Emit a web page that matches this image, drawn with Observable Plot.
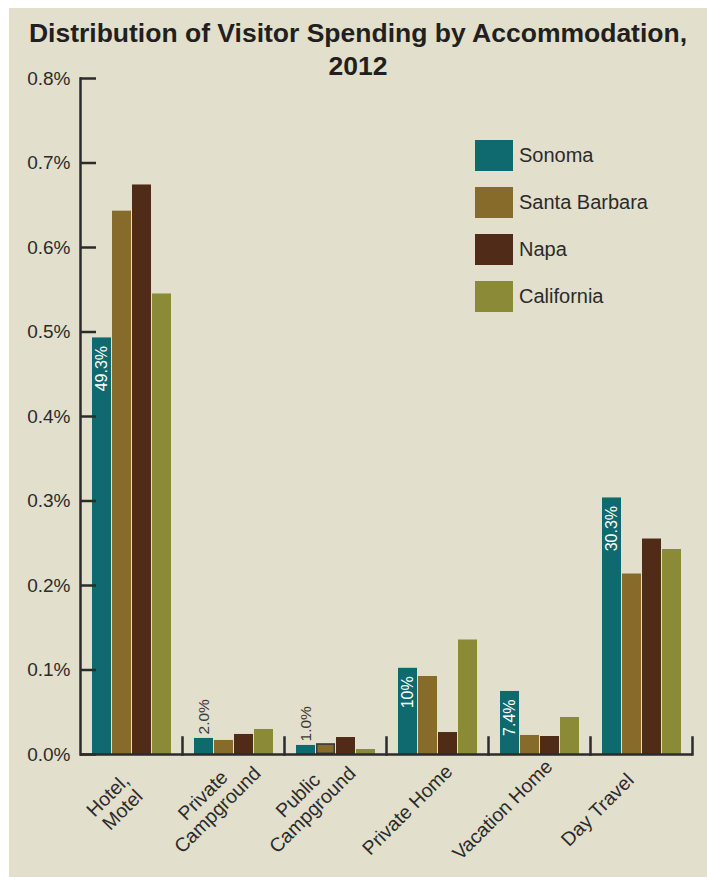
<!DOCTYPE html>
<html><head><meta charset="utf-8">
<script src="https://cdn.jsdelivr.net/npm/d3@7"></script>
<script src="https://cdn.jsdelivr.net/npm/@observablehq/plot@0.6"></script>
<style>
html,body{margin:0;padding:0;background:#fff;}
#wrap{position:relative;width:707px;height:877px;overflow:hidden;font-family:"Liberation Sans",Arial,sans-serif;color:#2b2b2b;}
#bg{position:absolute;left:9px;top:8px;right:0;bottom:0;background:#e2dfcc;}
#title{position:absolute;left:9px;right:0;top:17px;text-align:center;font-weight:bold;font-size:26.5px;line-height:33px;color:#231f20;}
.layer{position:absolute;left:0;top:0;}
#legend{position:absolute;left:475px;top:140px;}
.item{display:flex;align-items:center;height:31px;margin-bottom:16px;}
.sw{width:38px;height:31px;margin-right:6px;}
.item span{font-size:20px;color:#2b2b2b;}
</style></head><body>
<div id="wrap"><div id="bg"></div><div id="title">Distribution of Visitor Spending by Accommodation,<br>2012</div><div id="main" class="layer"></div><div id="labels" class="layer"></div><div id="legend"></div></div>
<script>
const categories = ["Hotel, Motel","Private Campground","Public Campground","Private Home","Vacation Home","Day Travel"];
const categoryLabels = ["Hotel,\nMotel","Private\nCampground","Public\nCampground","Private Home","Vacation Home","Day Travel"];
const series = ["Sonoma","Santa Barbara","Napa","California"];
const colors = ["#0e6a6e","#866b2b","#502c18","#8b8b37"];
const sonoma = [0.493,0.019,0.0107,0.102,0.0746,0.3036];
const santaBarbara = [0.643,0.0166,0.0126,0.0923,0.0225,0.2136];
const napa = [0.674,0.0237,0.0201,0.026,0.0213,0.255];
const california = [0.545,0.0296,0.0059,0.1355,0.0438,0.2426];
const sonomaLabels = ["49.3%","2.0%","1.0%","10%","7.4%","30.3%"];
const yTicks = [0,0.1,0.2,0.3,0.4,0.5,0.6,0.7,0.8];

const seriesValues = [sonoma, santaBarbara, napa, california];
const data = categories.flatMap((c, i) => series.map((s, j) => ({category: c, series: s, value: seriesValues[j][i]})));
const labelData = categories.map((c, i) => ({category: c, series: series[0], value: sonoma[i], label: sonomaLabels[i]}));
const inside = labelData.filter(d => d.value > 0.05);
const outside = labelData.filter(d => d.value <= 0.05);
const outlined = data.filter(d => d.category === "Public Campground" && d.series === "Santa Barbara");

const ink = "#2b2b2b";
const font = "Liberation Sans, Arial, sans-serif";

const main = Plot.plot({
  width: 707, height: 877,
  marginLeft: 79, marginRight: 14, marginTop: 78, marginBottom: 123,
  style: {background: "transparent", fontFamily: font, color: ink},
  fx: {domain: categories, padding: 0, axis: null},
  x: {domain: series, paddingInner: 0.06, paddingOuter: 0.55, axis: null},
  y: {domain: [0, 0.8], axis: null},
  color: {domain: series, range: colors},
  marks: [
    Plot.barY(data, {fx: "category", x: "series", y: "value", fill: "series"}),
    Plot.barY(outlined, {fx: "category", x: "series", y: "value", fill: "none", stroke: "#3a3a3a", strokeWidth: 1.5, inset: 0.75}),
    Plot.ruleY([0], {stroke: ink, strokeWidth: 2.5}),
    Plot.frame({anchor: "right", insetTop: 659, stroke: ink, strokeWidth: 2.5}),
    Plot.frame({anchor: "left", facetAnchor: "left", stroke: ink, strokeWidth: 2.5}),
    Plot.tickY(yTicks, {y: d => d, facetAnchor: "left", insetRight: 86, stroke: ink, strokeWidth: 2.5}),
    Plot.axisY({ticks: yTicks, tickSize: 0, tickPadding: 10, tickFormat: d => d.toFixed(1) + "%", fontSize: 19, fill: ink, label: null}),
    Plot.text(inside, {fx: "category", x: "series", y: "value", text: "label", rotate: -90, textAnchor: "end", dy: 8, fill: "white", fontSize: 16}),
    Plot.text(outside, {fx: "category", x: "series", y: "value", text: "label", rotate: -90, textAnchor: "start", dy: -4, fill: "#3a3a3a", fontSize: 15.5})
  ]
});
document.getElementById("main").appendChild(main);

const labels = Plot.plot({
  width: 707, height: 877,
  marginLeft: 78, marginRight: 57, marginTop: 0, marginBottom: 63,
  style: {background: "transparent", fontFamily: font, color: ink},
  x: {type: "band", domain: categories, padding: 0, axis: null},
  y: {axis: null},
  marks: [
    Plot.text(categories, {x: d => d, text: (d, i) => categoryLabels[i], frameAnchor: "bottom", rotate: -45, fontSize: 19.5, lineHeight: 1.05, fill: ink})
  ]
});
document.getElementById("labels").appendChild(labels);

const legend = document.getElementById("legend");
series.forEach((s, i) => {
  const item = document.createElement("div");
  item.className = "item";
  const sw = document.createElement("div");
  sw.className = "sw";
  sw.style.background = colors[i];
  const t = document.createElement("span");
  t.textContent = s;
  item.appendChild(sw); item.appendChild(t);
  legend.appendChild(item);
});
</script>
</body></html>
